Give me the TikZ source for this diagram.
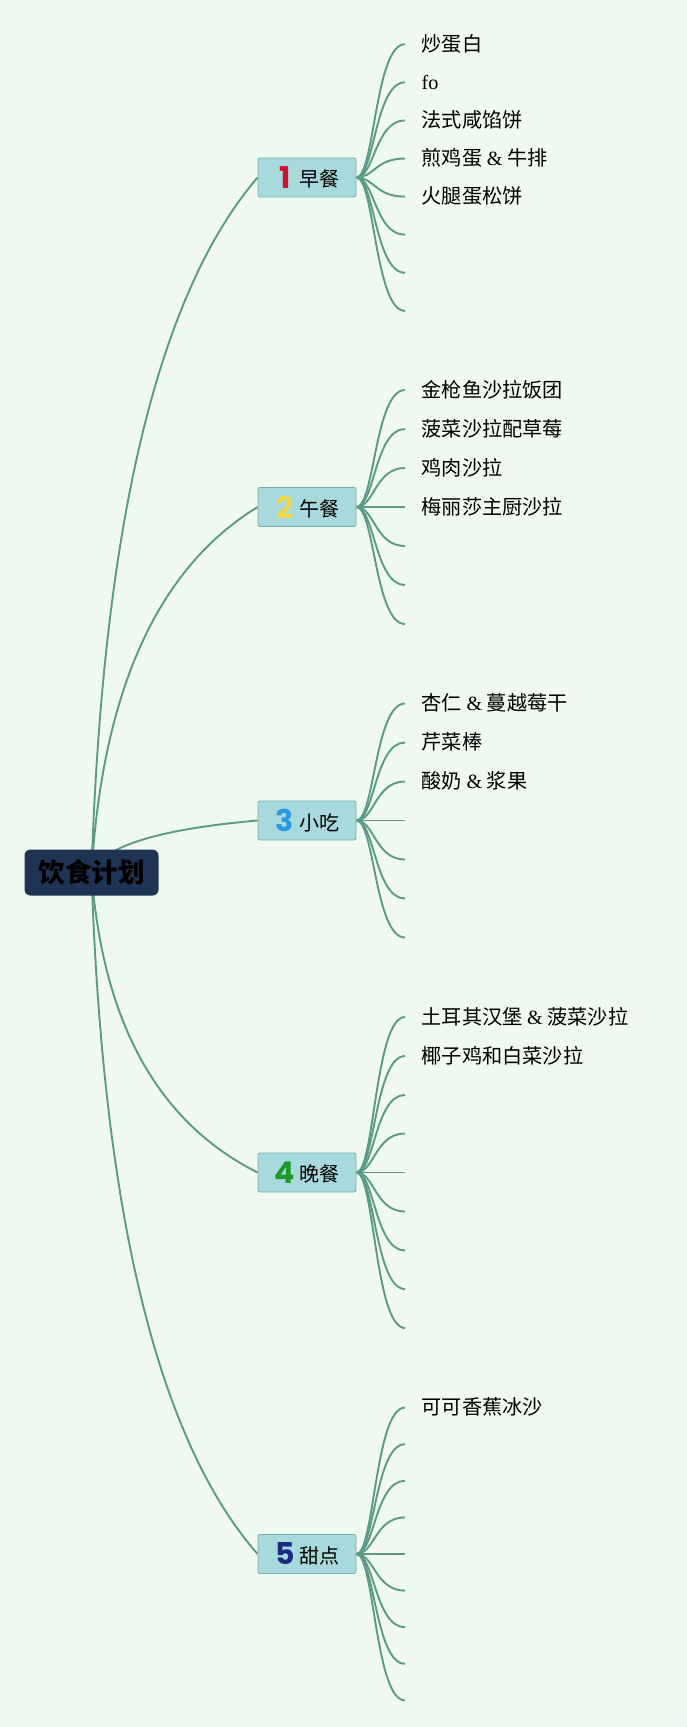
\documentclass[tikz,border=0pt]{standalone}
\usepackage{fontspec}
\setmainfont{Liberation Serif}
\newfontfamily\cjk{Noto Sans CJK SC}
\newfontfamily\numfont{Poppins}
\usetikzlibrary{calc, backgrounds}

\definecolor{bgmint}{HTML}{F0F9EF}
\definecolor{linkgreen}{HTML}{5A9A86}
\definecolor{boxfill}{HTML}{A8D9DC}
\definecolor{boxedge}{HTML}{72B0AE}
\definecolor{rootnavy}{HTML}{1F3354}
\definecolor{numred}{HTML}{D0122D}
\definecolor{numyellow}{HTML}{F2D64B}
\definecolor{numblue}{HTML}{2A9AE0}
\definecolor{numgreen}{HTML}{1A9A2A}
\definecolor{numnavy}{HTML}{1B2A80}

% coloured number in front of a meal label
\newcommand{\mealnum}[3]{\makebox[20pt]{\numfont\bfseries\fontsize{30}{30}\selectfont\color{#1}#2}\hspace{4pt}\raisebox{1.5pt}{#3}}

\begin{document}
\begin{tikzpicture}[
    x=1pt, y=-1pt,
    rootblock/.style={
        fill=rootnavy,
        rounded corners=6pt,
        minimum width=134pt,
        minimum height=46pt,
        inner sep=0pt,
        text=black,
        font=\cjk\bfseries\fontsize{26.5}{28}\selectfont
    },
    mealblock/.style={
        draw=boxedge,
        fill=boxfill,
        line width=0.8pt,
        rounded corners=2pt,
        minimum width=98pt,
        minimum height=39pt,
        inner sep=0pt,
        font=\cjk\fontsize{20}{22}\selectfont
    },
    leaf/.style={
        anchor=west,
        inner xsep=16.5pt,
        inner ysep=0pt,
        text height=15pt,
        text depth=1pt,
        font=\cjk\fontsize{20.2}{22}\selectfont
    },
    mainlink/.style={
        draw=linkgreen,
        line width=1.9pt,
        to path={let \p1=(\tikztostart), \p2=(\tikztotarget) in
            .. controls ({\x1+0.067*(\x2-\x1)},{\y1+0.5*(\y2-\y1)})
            and ({\x2-0.6*(\x2-\x1)},{\y2-0.167*(\y2-\y1)}) .. (\p2)}
    },
    leaflink/.style={
        draw=linkgreen,
        line width=1.9pt,
        to path={.. controls +(18pt,0) and +(-30pt,0) .. (\tikztotarget)}
    }
]
\useasboundingbox (0,0) rectangle (687,1727);
% ============================================================
% ROOT AND MEALS
% ============================================================
\node[rootblock] (plan) at (91.5,872.5) {饮食计划};
\node[mealblock] (breakfast) at (307,177.5) {\mealnum{numred}{1}{早餐}};
\node[mealblock] (lunch)     at (307,507)   {\mealnum{numyellow}{2}{午餐}};
\node[mealblock] (snack)     at (307,820.5) {\mealnum{numblue}{3}{小吃}};
\node[mealblock] (dinner)    at (307,1172.5) {\mealnum{numgreen}{4}{晚餐}};
\node[mealblock] (dessert)   at (307,1554)  {\mealnum{numnavy}{5}{甜点}};
% ============================================================
% BREAKFAST ITEMS
% ============================================================
\node[leaf] (bf1) at (405,44.2)  {炒蛋白};
\node[leaf] (bf2) at (405,82.3)  {\rmfamily fo};
\node[leaf] (bf3) at (405,120.4) {法式咸馅饼};
\node[leaf] (bf4) at (405,158.5) {煎鸡蛋 {\rmfamily\&} 牛排};
\node[leaf] (bf5) at (405,196.6) {火腿蛋松饼};
\coordinate (bf6) at (405,234.7);
\coordinate (bf7) at (405,272.8);
\coordinate (bf8) at (405,310.9);
% ============================================================
% LUNCH ITEMS
% ============================================================
\node[leaf] (lu1) at (405,390) {金枪鱼沙拉饭团};
\node[leaf] (lu2) at (405,429) {菠菜沙拉配草莓};
\node[leaf] (lu3) at (405,468) {鸡肉沙拉};
\node[leaf] (lu4) at (405,507) {梅丽莎主厨沙拉};
\coordinate (lu5) at (405,546);
\coordinate (lu6) at (405,585);
\coordinate (lu7) at (405,624);
% ============================================================
% SNACK ITEMS
% ============================================================
\node[leaf] (sn1) at (405,703.5) {杏仁 {\rmfamily\&} 蔓越莓干};
\node[leaf] (sn2) at (405,742.5) {芹菜棒};
\node[leaf] (sn3) at (405,781.5) {酸奶 {\rmfamily\&} 浆果};
\coordinate (sn4) at (405,820.5);
\coordinate (sn5) at (405,859.5);
\coordinate (sn6) at (405,898.5);
\coordinate (sn7) at (405,937.5);
% ============================================================
% DINNER ITEMS
% ============================================================
\node[leaf] (di1) at (405,1017)   {土耳其汉堡 {\rmfamily\&} 菠菜沙拉};
\node[leaf] (di2) at (405,1056)   {椰子鸡和白菜沙拉};
\coordinate (di3) at (405,1095);
\coordinate (di4) at (405,1133.5);
\coordinate (di5) at (405,1172.5);
\coordinate (di6) at (405,1211.5);
\coordinate (di7) at (405,1250.5);
\coordinate (di8) at (405,1289);
\coordinate (di9) at (405,1328);
% ============================================================
% DESSERT ITEMS
% ============================================================
\node[leaf] (de1) at (405,1407.6) {可可香蕉冰沙};
\coordinate (de2) at (405,1444.2);
\coordinate (de3) at (405,1480.8);
\coordinate (de4) at (405,1517.4);
\coordinate (de5) at (405,1554);
\coordinate (de6) at (405,1590.6);
\coordinate (de7) at (405,1627.2);
\coordinate (de8) at (405,1663.8);
\coordinate (de9) at (405,1700.4);
% ============================================================
% LINKS -- kept behind the boxes
% ============================================================
\begin{scope}[on background layer]
\fill[bgmint] (0,0) rectangle (687,1727);
\draw[mainlink] (plan.center) to (breakfast.west);
\draw[mainlink] (plan.center) to (lunch.west);
\draw[mainlink] (plan.center) to (snack.west);
\draw[mainlink] (plan.center) to (dinner.west);
\draw[mainlink] (plan.center) to (dessert.west);

\draw[leaflink] (breakfast.east) to (bf1.west);
\draw[leaflink] (breakfast.east) to (bf2.west);
\draw[leaflink] (breakfast.east) to (bf3.west);
\draw[leaflink] (breakfast.east) to (bf4.west);
\draw[leaflink] (breakfast.east) to (bf5.west);
\draw[leaflink] (breakfast.east) to (bf6);
\draw[leaflink] (breakfast.east) to (bf7);
\draw[leaflink] (breakfast.east) to (bf8);

\draw[leaflink] (lunch.east) to (lu1.west);
\draw[leaflink] (lunch.east) to (lu2.west);
\draw[leaflink] (lunch.east) to (lu3.west);
\draw[leaflink] (lunch.east) to (lu4.west);
\draw[leaflink] (lunch.east) to (lu5);
\draw[leaflink] (lunch.east) to (lu6);
\draw[leaflink] (lunch.east) to (lu7);

\draw[leaflink] (snack.east) to (sn1.west);
\draw[leaflink] (snack.east) to (sn2.west);
\draw[leaflink] (snack.east) to (sn3.west);
\draw[leaflink] (snack.east) to (sn4);
\draw[leaflink] (snack.east) to (sn5);
\draw[leaflink] (snack.east) to (sn6);
\draw[leaflink] (snack.east) to (sn7);

\draw[leaflink] (dinner.east) to (di1.west);
\draw[leaflink] (dinner.east) to (di2.west);
\draw[leaflink] (dinner.east) to (di3);
\draw[leaflink] (dinner.east) to (di4);
\draw[leaflink] (dinner.east) to (di5);
\draw[leaflink] (dinner.east) to (di6);
\draw[leaflink] (dinner.east) to (di7);
\draw[leaflink] (dinner.east) to (di8);
\draw[leaflink] (dinner.east) to (di9);

\draw[leaflink] (dessert.east) to (de1.west);
\draw[leaflink] (dessert.east) to (de2);
\draw[leaflink] (dessert.east) to (de3);
\draw[leaflink] (dessert.east) to (de4);
\draw[leaflink] (dessert.east) to (de5);
\draw[leaflink] (dessert.east) to (de6);
\draw[leaflink] (dessert.east) to (de7);
\draw[leaflink] (dessert.east) to (de8);
\draw[leaflink] (dessert.east) to (de9);
\end{scope}
\end{tikzpicture}
\end{document}
